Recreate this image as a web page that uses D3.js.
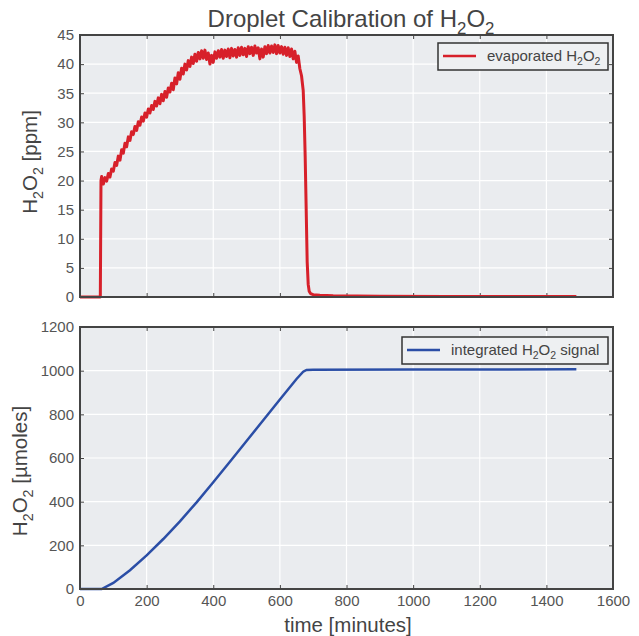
<!DOCTYPE html>
<html>
  <head>
    <meta charset="utf-8">
    <title>Droplet Calibration</title>
    <script src="https://d3js.org/d3.v7.min.js"></script>
    <style>
    body { margin: 0; background: #fff; }
    text { font-family: "Liberation Sans", Arial, sans-serif; fill: #444; }
    .grid-line { stroke: #fff; stroke-width: 1.2px; }
    .tick text { fill: #555; font-size: 15px; font-family: "Liberation Sans", Arial, sans-serif; }
    .tick line { stroke: #444; }
    .domain { display: none; }
    </style>
  </head>
  <body>
    <script>
      // ==================
      // Data
      // ==================
      const xTicks = [0, 200, 400, 600, 800, 1000, 1200, 1400, 1600];
      const ppmTicks = [0, 5, 10, 15, 20, 25, 30, 35, 40, 45];
      const umolTicks = [0, 200, 400, 600, 800, 1000, 1200];

      // evaporated H2O2 [ppm] vs time [minutes]
      const evapTime = [0, 61, 63, 65, 70, 75, 80, 85, 90, 95, 100, 105, 110, 115, 120, 125, 130, 135, 140, 145,
        150, 155, 160, 165, 170, 175, 180, 185, 190, 195, 200, 205, 210, 215, 220, 225, 230, 235, 240, 245,
        250, 255, 260, 265, 270, 275, 280, 285, 290, 295, 300, 305, 310, 315, 320, 325, 330, 335, 340, 345,
        350, 355, 360, 365, 370, 375, 380, 385, 390, 395, 400, 405, 410, 415, 420, 425, 430, 435, 440, 445,
        450, 455, 460, 465, 470, 475, 480, 485, 490, 495, 500, 505, 510, 515, 520, 525, 530, 535, 540, 545,
        550, 555, 560, 565, 570, 575, 580, 585, 590, 595, 600, 605, 610, 615, 620, 625, 630, 635, 640, 645,
        650, 655, 660, 665, 670, 673, 676, 679, 682, 685, 688, 692, 700, 720, 760, 900, 1100, 1300, 1490];
      const evapPpm = [0, 0, 20.0, 20.7, 19.4, 20.5, 19.9, 21.2, 20.6, 22.0, 21.6, 23.1, 22.6, 24.2, 23.5, 25.3, 24.7, 26.4, 25.8, 27.5,
        26.9, 28.4, 27.9, 29.3, 28.6, 30.1, 29.5, 30.9, 30.2, 31.6, 30.9, 32.3, 31.6, 32.9, 32.2, 33.6, 32.8, 34.2, 33.2, 34.8,
        33.7, 35.3, 34.3, 35.9, 35.2, 36.7, 35.6, 37.6, 36.6, 38.5, 37.4, 39.3, 38.3, 40.0, 39.0, 40.6, 39.6, 41.2, 40.1, 41.7,
        40.5, 42.0, 40.9, 42.3, 41.0, 42.4, 40.8, 41.9, 40.0, 41.5, 40.3, 42.1, 41.0, 42.3, 41.2, 42.5, 41.0, 42.4, 41.3, 42.6,
        41.1, 42.7, 41.4, 42.5, 41.2, 42.8, 41.5, 42.9, 41.6, 42.7, 41.3, 43.0, 41.8, 42.9, 41.5, 43.1, 41.9, 42.8, 40.9, 42.6,
        41.2, 43.0, 41.8, 43.2, 41.9, 43.1, 42.0, 43.3, 41.8, 43.2, 41.9, 43.0, 41.7, 42.9, 41.5, 42.8, 41.3, 42.6, 40.9, 42.2,
        40.3, 41.4, 39.2, 38.0, 35.5, 31.0, 24.0, 15.0, 6.0, 2.2, 1.0, 0.6, 0.4, 0.3, 0.2, 0.15, 0.1, 0.1, 0.08];

      // integrated H2O2 signal [umoles] vs time [minutes]
      const intTime = [0, 65, 100, 150, 200, 250, 300, 350, 400, 450, 500, 550, 600, 650, 670, 680, 700, 1000, 1490];
      const intUmol = [0, 0, 28, 86, 154, 229, 310, 397, 489, 583, 678, 773, 868, 962, 995, 1003, 1004, 1005, 1006];

      // ==================
      // Layout
      // ==================
      const width = 639;
      const height = 636;
      const left = 80, right = 613;
      const top1 = 35, bottom1 = 297;
      const top2 = 327, bottom2 = 589;

      const svg = d3.select("body")
        .append("svg")
          .attr("width", width)
          .attr("height", height);

      const xScale = d3.scaleLinear().domain([0, 1600]).range([left, right]);
      const y1 = d3.scaleLinear().domain([0, 45]).range([bottom1, top1]);
      const y2 = d3.scaleLinear().domain([0, 1200]).range([bottom2, top2]);

      // append text with H2O2 subscripts; parts = [text, isSub, backUp]
      function richText(sel, parts, size) {
        parts.forEach(function(p) {
          const t = sel.append("tspan").text(p[0]);
          if (p[1]) {
            t.attr("dy", size * 0.28).style("font-size", (size * 0.7) + "px");
          } else if (p[2]) {
            t.attr("dy", -size * 0.28);
          }
        });
      }
      const h2o2 = [["H"], ["2", true], ["O", false, true], ["2", true]];

      function drawPanel(yScale, yTicks, top, bottom, showX) {
        const g = svg.append("g");

        g.append("rect")
          .attr("x", left).attr("y", top)
          .attr("width", right - left).attr("height", bottom - top)
          .attr("fill", "#eaecef");

        // grid
        g.selectAll(".vgrid").data(xTicks.slice(1, -1)).enter()
          .append("line").classed("grid-line", true)
          .attr("x1", d => xScale(d)).attr("x2", d => xScale(d))
          .attr("y1", top).attr("y2", bottom);
        g.selectAll(".hgrid").data(yTicks.slice(1, -1)).enter()
          .append("line").classed("grid-line", true)
          .attr("x1", left).attr("x2", right)
          .attr("y1", d => yScale(d)).attr("y2", d => yScale(d));

        // axes, ticks pointing inward
        g.append("g")
          .attr("transform", "translate(0," + bottom + ")")
          .call(d3.axisBottom(xScale).tickValues(xTicks).tickSize(-4).tickPadding(6)
            .tickFormat(showX ? d3.format("d") : ""));
        g.append("g")
          .attr("transform", "translate(0," + top + ")")
          .call(d3.axisTop(xScale).tickValues(xTicks).tickSize(-4).tickFormat(""));
        g.append("g")
          .attr("transform", "translate(" + left + ",0)")
          .call(d3.axisLeft(yScale).tickValues(yTicks).tickSize(-4).tickPadding(6)
            .tickFormat(d3.format("d")));
        g.append("g")
          .attr("transform", "translate(" + right + ",0)")
          .call(d3.axisRight(yScale).tickValues(yTicks).tickSize(-4).tickFormat(""));
        return g;
      }

      function drawFrame(top, bottom) {
        svg.append("rect")
          .attr("x", left).attr("y", top)
          .attr("width", right - left).attr("height", bottom - top)
          .attr("fill", "none")
          .attr("stroke", "#444")
          .attr("stroke-width", 2);
      }

      drawPanel(y1, ppmTicks, top1, bottom1, false);
      drawPanel(y2, umolTicks, top2, bottom2, true);

      // lines
      const evap = evapTime.map((t, i) => [t, evapPpm[i]]);
      const integ = intTime.map((t, i) => [t, intUmol[i]]);

      svg.append("path")
        .datum(evap)
        .attr("fill", "none")
        .attr("stroke", "#d7202a")
        .attr("stroke-width", 3)
        .attr("stroke-linejoin", "round")
        .attr("d", d3.line().x(d => xScale(d[0])).y(d => y1(d[1])));

      svg.append("path")
        .datum(integ)
        .attr("fill", "none")
        .attr("stroke", "#2b4ea6")
        .attr("stroke-width", 2.5)
        .attr("d", d3.line().x(d => xScale(d[0])).y(d => y2(d[1])));

      drawFrame(top1, bottom1);
      drawFrame(top2, bottom2);

      // legends
      function legend(x, y, w, color, parts) {
        svg.append("rect")
          .attr("x", x).attr("y", y).attr("width", w).attr("height", 27)
          .attr("fill", "#eef0f2").attr("stroke", "#333").attr("stroke-width", 1.5);
        svg.append("line")
          .attr("x1", x + 5).attr("x2", x + 38)
          .attr("y1", y + 13).attr("y2", y + 13)
          .attr("stroke", color).attr("stroke-width", 2.5);
        const t = svg.append("text")
          .attr("x", x + 49).attr("y", y + 18)
          .style("font-size", "15px");
        richText(t, parts, 15);
      }
      legend(438, 43, 170, "#d7202a", [["evaporated "]].concat(h2o2));
      legend(402, 337, 206, "#2b4ea6", [["integrated "]].concat(h2o2).concat([[" signal", false, true]]));

      // title
      const title = svg.append("text")
        .attr("x", 351).attr("y", 27)
        .attr("text-anchor", "middle")
        .style("font-size", "24px");
      richText(title, [["Droplet Calibration of "]].concat(h2o2), 24);

      // axis labels
      const yl1 = svg.append("text")
        .attr("transform", "translate(37,162) rotate(-90)")
        .attr("text-anchor", "middle")
        .style("font-size", "20.5px");
      richText(yl1, h2o2.concat([[" [ppm]", false, true]]), 20.5);

      const yl2 = svg.append("text")
        .attr("transform", "translate(27,471) rotate(-90)")
        .attr("text-anchor", "middle")
        .style("font-size", "20.5px");
      richText(yl2, h2o2.concat([[" [\u00b5moles]", false, true]]), 20.5);

      svg.append("text")
        .attr("x", 348).attr("y", 632)
        .attr("text-anchor", "middle")
        .style("font-size", "20.5px")
        .text("time [minutes]");
    </script>
  </body>
</html>
